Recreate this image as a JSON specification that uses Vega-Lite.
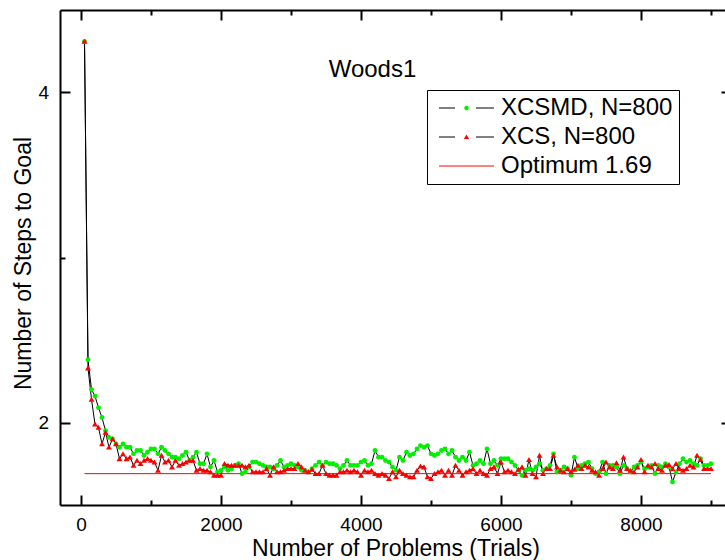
{
"$schema":"https://vega.github.io/schema/vega-lite/v6.json",
"width":665,"height":495,
"autosize":{"type":"none"},
"padding":{"left":60,"top":10,"right":0,"bottom":55},
"config":{"view":{"stroke":null},"font":"Liberation Sans",
 "axis":{"grid":false,"tickColor":"black","domainColor":"black","labelColor":"black","titleColor":"black","tickWidth":2,"domainWidth":2,"labelFont":"Liberation Sans","titleFont":"Liberation Sans","titleFontWeight":"normal","labelFlush":false,"labelOverlap":false}},
"title":{"text":"Woods1","fontSize":24,"fontWeight":"normal","font":"Liberation Sans","color":"black","anchor":"middle","orient":"top","offset":-92,"baseline":"alphabetic","dx":-20},
"datasets":{"d":[
{"s":"M","x":50,"y":4.31},{"s":"M","x":100,"y":2.38},{"s":"M","x":150,"y":2.20},{"s":"M","x":200,"y":2.16},{"s":"M","x":250,"y":2.09},{"s":"M","x":300,"y":2.03},{"s":"M","x":350,"y":1.95},{"s":"M","x":400,"y":1.91},{"s":"M","x":450,"y":1.90},{"s":"M","x":500,"y":1.87},
{"s":"M","x":550,"y":1.85},{"s":"M","x":600,"y":1.87},{"s":"M","x":650,"y":1.85},{"s":"M","x":700,"y":1.85},{"s":"M","x":750,"y":1.81},{"s":"M","x":800,"y":1.83},{"s":"M","x":850,"y":1.83},{"s":"M","x":900,"y":1.80},{"s":"M","x":950,"y":1.82},{"s":"M","x":1000,"y":1.84},
{"s":"M","x":1050,"y":1.84},{"s":"M","x":1100,"y":1.81},{"s":"M","x":1150,"y":1.85},{"s":"M","x":1200,"y":1.83},{"s":"M","x":1250,"y":1.81},{"s":"M","x":1300,"y":1.79},{"s":"M","x":1350,"y":1.79},{"s":"M","x":1400,"y":1.78},{"s":"M","x":1450,"y":1.80},{"s":"M","x":1500,"y":1.82},
{"s":"M","x":1550,"y":1.77},{"s":"M","x":1600,"y":1.79},{"s":"M","x":1650,"y":1.82},{"s":"M","x":1700,"y":1.75},{"s":"M","x":1750,"y":1.75},{"s":"M","x":1800,"y":1.81},{"s":"M","x":1850,"y":1.73},{"s":"M","x":1900,"y":1.77},{"s":"M","x":1950,"y":1.70},{"s":"M","x":2000,"y":1.71},
{"s":"M","x":2050,"y":1.73},{"s":"M","x":2100,"y":1.71},{"s":"M","x":2150,"y":1.72},{"s":"M","x":2200,"y":1.74},{"s":"M","x":2250,"y":1.75},{"s":"M","x":2300,"y":1.69},{"s":"M","x":2350,"y":1.70},{"s":"M","x":2400,"y":1.73},{"s":"M","x":2450,"y":1.76},{"s":"M","x":2500,"y":1.76},
{"s":"M","x":2550,"y":1.75},{"s":"M","x":2600,"y":1.74},{"s":"M","x":2650,"y":1.73},{"s":"M","x":2700,"y":1.73},{"s":"M","x":2750,"y":1.72},{"s":"M","x":2800,"y":1.74},{"s":"M","x":2850,"y":1.77},{"s":"M","x":2900,"y":1.73},{"s":"M","x":2950,"y":1.74},{"s":"M","x":3000,"y":1.75},
{"s":"M","x":3050,"y":1.74},{"s":"M","x":3100,"y":1.73},{"s":"M","x":3150,"y":1.71},{"s":"M","x":3200,"y":1.71},{"s":"M","x":3250,"y":1.70},{"s":"M","x":3300,"y":1.72},{"s":"M","x":3350,"y":1.74},{"s":"M","x":3400,"y":1.76},{"s":"M","x":3450,"y":1.74},{"s":"M","x":3500,"y":1.76},
{"s":"M","x":3550,"y":1.75},{"s":"M","x":3600,"y":1.75},{"s":"M","x":3650,"y":1.74},{"s":"M","x":3700,"y":1.72},{"s":"M","x":3750,"y":1.74},{"s":"M","x":3800,"y":1.77},{"s":"M","x":3850,"y":1.74},{"s":"M","x":3900,"y":1.74},{"s":"M","x":3950,"y":1.74},{"s":"M","x":4000,"y":1.76},
{"s":"M","x":4050,"y":1.77},{"s":"M","x":4100,"y":1.74},{"s":"M","x":4150,"y":1.75},{"s":"M","x":4200,"y":1.83},{"s":"M","x":4250,"y":1.79},{"s":"M","x":4300,"y":1.79},{"s":"M","x":4350,"y":1.77},{"s":"M","x":4400,"y":1.76},{"s":"M","x":4450,"y":1.73},{"s":"M","x":4500,"y":1.71},
{"s":"M","x":4550,"y":1.79},{"s":"M","x":4600,"y":1.77},{"s":"M","x":4650,"y":1.82},{"s":"M","x":4700,"y":1.80},{"s":"M","x":4750,"y":1.81},{"s":"M","x":4800,"y":1.84},{"s":"M","x":4850,"y":1.86},{"s":"M","x":4900,"y":1.85},{"s":"M","x":4950,"y":1.86},{"s":"M","x":5000,"y":1.81},
{"s":"M","x":5050,"y":1.80},{"s":"M","x":5100,"y":1.81},{"s":"M","x":5150,"y":1.83},{"s":"M","x":5200,"y":1.84},{"s":"M","x":5250,"y":1.81},{"s":"M","x":5300,"y":1.83},{"s":"M","x":5350,"y":1.79},{"s":"M","x":5400,"y":1.77},{"s":"M","x":5450,"y":1.79},{"s":"M","x":5500,"y":1.77},
{"s":"M","x":5550,"y":1.82},{"s":"M","x":5600,"y":1.74},{"s":"M","x":5650,"y":1.75},{"s":"M","x":5700,"y":1.77},{"s":"M","x":5750,"y":1.75},{"s":"M","x":5800,"y":1.84},{"s":"M","x":5850,"y":1.75},{"s":"M","x":5900,"y":1.77},{"s":"M","x":5950,"y":1.74},{"s":"M","x":6000,"y":1.78},
{"s":"M","x":6050,"y":1.78},{"s":"M","x":6100,"y":1.78},{"s":"M","x":6150,"y":1.76},{"s":"M","x":6200,"y":1.74},{"s":"M","x":6250,"y":1.71},{"s":"M","x":6300,"y":1.68},{"s":"M","x":6350,"y":1.71},{"s":"M","x":6400,"y":1.72},{"s":"M","x":6450,"y":1.71},{"s":"M","x":6500,"y":1.73},
{"s":"M","x":6550,"y":1.75},{"s":"M","x":6600,"y":1.71},{"s":"M","x":6650,"y":1.72},{"s":"M","x":6700,"y":1.74},{"s":"M","x":6750,"y":1.81},{"s":"M","x":6800,"y":1.70},{"s":"M","x":6850,"y":1.71},{"s":"M","x":6900,"y":1.73},{"s":"M","x":6950,"y":1.72},{"s":"M","x":7000,"y":1.68},
{"s":"M","x":7050,"y":1.79},{"s":"M","x":7100,"y":1.72},{"s":"M","x":7150,"y":1.74},{"s":"M","x":7200,"y":1.75},{"s":"M","x":7250,"y":1.76},{"s":"M","x":7300,"y":1.72},{"s":"M","x":7350,"y":1.69},{"s":"M","x":7400,"y":1.70},{"s":"M","x":7450,"y":1.76},{"s":"M","x":7500,"y":1.69},
{"s":"M","x":7550,"y":1.74},{"s":"M","x":7600,"y":1.74},{"s":"M","x":7650,"y":1.73},{"s":"M","x":7700,"y":1.69},{"s":"M","x":7750,"y":1.74},{"s":"M","x":7800,"y":1.72},{"s":"M","x":7850,"y":1.70},{"s":"M","x":7900,"y":1.73},{"s":"M","x":7950,"y":1.74},{"s":"M","x":8000,"y":1.76},
{"s":"M","x":8050,"y":1.72},{"s":"M","x":8100,"y":1.73},{"s":"M","x":8150,"y":1.74},{"s":"M","x":8200,"y":1.69},{"s":"M","x":8250,"y":1.74},{"s":"M","x":8300,"y":1.73},{"s":"M","x":8350,"y":1.75},{"s":"M","x":8400,"y":1.73},{"s":"M","x":8450,"y":1.64},{"s":"M","x":8500,"y":1.70},
{"s":"M","x":8550,"y":1.75},{"s":"M","x":8600,"y":1.78},{"s":"M","x":8650,"y":1.76},{"s":"M","x":8700,"y":1.77},{"s":"M","x":8750,"y":1.75},{"s":"M","x":8800,"y":1.74},{"s":"M","x":8850,"y":1.78},{"s":"M","x":8900,"y":1.74},{"s":"M","x":8950,"y":1.74},{"s":"M","x":9000,"y":1.75},
{"s":"X","x":50,"y":4.31},{"s":"X","x":100,"y":2.33},{"s":"X","x":150,"y":2.14},{"s":"X","x":200,"y":1.99},{"s":"X","x":250,"y":1.97},{"s":"X","x":300,"y":1.87},{"s":"X","x":350,"y":1.94},{"s":"X","x":400,"y":1.85},{"s":"X","x":450,"y":1.90},{"s":"X","x":500,"y":1.87},
{"s":"X","x":550,"y":1.78},{"s":"X","x":600,"y":1.81},{"s":"X","x":650,"y":1.78},{"s":"X","x":700,"y":1.79},{"s":"X","x":750,"y":1.74},{"s":"X","x":800,"y":1.77},{"s":"X","x":850,"y":1.75},{"s":"X","x":900,"y":1.77},{"s":"X","x":950,"y":1.78},{"s":"X","x":1000,"y":1.77},
{"s":"X","x":1050,"y":1.76},{"s":"X","x":1100,"y":1.71},{"s":"X","x":1150,"y":1.80},{"s":"X","x":1200,"y":1.76},{"s":"X","x":1250,"y":1.77},{"s":"X","x":1300,"y":1.73},{"s":"X","x":1350,"y":1.77},{"s":"X","x":1400,"y":1.74},{"s":"X","x":1450,"y":1.75},{"s":"X","x":1500,"y":1.76},
{"s":"X","x":1550,"y":1.77},{"s":"X","x":1600,"y":1.77},{"s":"X","x":1650,"y":1.71},{"s":"X","x":1700,"y":1.72},{"s":"X","x":1750,"y":1.71},{"s":"X","x":1800,"y":1.71},{"s":"X","x":1850,"y":1.70},{"s":"X","x":1900,"y":1.68},{"s":"X","x":1950,"y":1.68},{"s":"X","x":2000,"y":1.68},
{"s":"X","x":2050,"y":1.75},{"s":"X","x":2100,"y":1.74},{"s":"X","x":2150,"y":1.74},{"s":"X","x":2200,"y":1.74},{"s":"X","x":2250,"y":1.74},{"s":"X","x":2300,"y":1.74},{"s":"X","x":2350,"y":1.73},{"s":"X","x":2400,"y":1.74},{"s":"X","x":2450,"y":1.70},{"s":"X","x":2500,"y":1.70},
{"s":"X","x":2550,"y":1.70},{"s":"X","x":2600,"y":1.70},{"s":"X","x":2650,"y":1.72},{"s":"X","x":2700,"y":1.68},{"s":"X","x":2750,"y":1.73},{"s":"X","x":2800,"y":1.70},{"s":"X","x":2850,"y":1.70},{"s":"X","x":2900,"y":1.71},{"s":"X","x":2950,"y":1.72},{"s":"X","x":3000,"y":1.72},
{"s":"X","x":3050,"y":1.72},{"s":"X","x":3100,"y":1.75},{"s":"X","x":3150,"y":1.73},{"s":"X","x":3200,"y":1.71},{"s":"X","x":3250,"y":1.70},{"s":"X","x":3300,"y":1.715},{"s":"X","x":3350,"y":1.69},{"s":"X","x":3400,"y":1.69},{"s":"X","x":3450,"y":1.74},{"s":"X","x":3500,"y":1.69},
{"s":"X","x":3550,"y":1.68},{"s":"X","x":3600,"y":1.68},{"s":"X","x":3650,"y":1.68},{"s":"X","x":3700,"y":1.70},{"s":"X","x":3750,"y":1.70},{"s":"X","x":3800,"y":1.71},{"s":"X","x":3850,"y":1.70},{"s":"X","x":3900,"y":1.71},{"s":"X","x":3950,"y":1.70},{"s":"X","x":4000,"y":1.68},
{"s":"X","x":4050,"y":1.71},{"s":"X","x":4100,"y":1.70},{"s":"X","x":4150,"y":1.71},{"s":"X","x":4200,"y":1.69},{"s":"X","x":4250,"y":1.68},{"s":"X","x":4300,"y":1.69},{"s":"X","x":4350,"y":1.68},{"s":"X","x":4400,"y":1.66},{"s":"X","x":4450,"y":1.70},{"s":"X","x":4500,"y":1.67},
{"s":"X","x":4550,"y":1.71},{"s":"X","x":4600,"y":1.69},{"s":"X","x":4650,"y":1.68},{"s":"X","x":4700,"y":1.67},{"s":"X","x":4750,"y":1.67},{"s":"X","x":4800,"y":1.71},{"s":"X","x":4850,"y":1.735},{"s":"X","x":4900,"y":1.73},{"s":"X","x":4950,"y":1.67},{"s":"X","x":5000,"y":1.66},
{"s":"X","x":5050,"y":1.69},{"s":"X","x":5100,"y":1.70},{"s":"X","x":5150,"y":1.71},{"s":"X","x":5200,"y":1.68},{"s":"X","x":5250,"y":1.71},{"s":"X","x":5300,"y":1.68},{"s":"X","x":5350,"y":1.74},{"s":"X","x":5400,"y":1.71},{"s":"X","x":5450,"y":1.68},{"s":"X","x":5500,"y":1.70},
{"s":"X","x":5550,"y":1.71},{"s":"X","x":5600,"y":1.72},{"s":"X","x":5650,"y":1.69},{"s":"X","x":5700,"y":1.71},{"s":"X","x":5750,"y":1.69},{"s":"X","x":5800,"y":1.68},{"s":"X","x":5850,"y":1.72},{"s":"X","x":5900,"y":1.73},{"s":"X","x":5950,"y":1.69},{"s":"X","x":6000,"y":1.76},
{"s":"X","x":6050,"y":1.70},{"s":"X","x":6100,"y":1.71},{"s":"X","x":6150,"y":1.70},{"s":"X","x":6200,"y":1.69},{"s":"X","x":6250,"y":1.715},{"s":"X","x":6300,"y":1.73},{"s":"X","x":6350,"y":1.68},{"s":"X","x":6400,"y":1.775},{"s":"X","x":6450,"y":1.69},{"s":"X","x":6500,"y":1.67},
{"s":"X","x":6550,"y":1.80},{"s":"X","x":6600,"y":1.69},{"s":"X","x":6650,"y":1.72},{"s":"X","x":6700,"y":1.72},{"s":"X","x":6750,"y":1.80},{"s":"X","x":6800,"y":1.73},{"s":"X","x":6850,"y":1.71},{"s":"X","x":6900,"y":1.70},{"s":"X","x":6950,"y":1.72},{"s":"X","x":7000,"y":1.70},
{"s":"X","x":7050,"y":1.715},{"s":"X","x":7100,"y":1.74},{"s":"X","x":7150,"y":1.72},{"s":"X","x":7200,"y":1.74},{"s":"X","x":7250,"y":1.73},{"s":"X","x":7300,"y":1.71},{"s":"X","x":7350,"y":1.70},{"s":"X","x":7400,"y":1.68},{"s":"X","x":7450,"y":1.72},{"s":"X","x":7500,"y":1.76},
{"s":"X","x":7550,"y":1.73},{"s":"X","x":7600,"y":1.72},{"s":"X","x":7650,"y":1.755},{"s":"X","x":7700,"y":1.71},{"s":"X","x":7750,"y":1.79},{"s":"X","x":7800,"y":1.72},{"s":"X","x":7850,"y":1.71},{"s":"X","x":7900,"y":1.70},{"s":"X","x":7950,"y":1.73},{"s":"X","x":8000,"y":1.775},
{"s":"X","x":8050,"y":1.70},{"s":"X","x":8100,"y":1.74},{"s":"X","x":8150,"y":1.73},{"s":"X","x":8200,"y":1.75},{"s":"X","x":8250,"y":1.72},{"s":"X","x":8300,"y":1.71},{"s":"X","x":8350,"y":1.74},{"s":"X","x":8400,"y":1.745},{"s":"X","x":8450,"y":1.72},{"s":"X","x":8500,"y":1.75},
{"s":"X","x":8550,"y":1.72},{"s":"X","x":8600,"y":1.71},{"s":"X","x":8650,"y":1.72},{"s":"X","x":8700,"y":1.74},{"s":"X","x":8750,"y":1.73},{"s":"X","x":8800,"y":1.80},{"s":"X","x":8850,"y":1.775},{"s":"X","x":8900,"y":1.72},{"s":"X","x":8950,"y":1.72},{"s":"X","x":9000,"y":1.72},
{"s":"O","x":50,"y":1.69},{"s":"O","x":9000,"y":1.69}
]},
"data":{"name":"d"},
"layer":[
{"transform":[{"filter":"datum.s !== 'O'"}],
 "mark":{"type":"line","strokeWidth":1},
 "encoding":{
  "x":{"field":"x","type":"quantitative","scale":{"domain":[-300,9200],"nice":false,"zero":false},
   "axis":{"orient":"bottom","values":[0,2000,4000,6000,8000],"format":"d","tickSize":-10,"labelPadding":20,"labelFontSize":19,"domain":true,"title":"Number of Problems (Trials)","titleFontSize":23,"titleBaseline":"alphabetic","titleX":335.5,"titleY":50}},
  "y":{"field":"y","type":"quantitative","scale":{"domain":[1.5,4.5],"nice":false,"zero":false},
   "axis":{"orient":"left","values":[2,4],"format":"d","tickSize":-10,"labelPadding":21.5,"labelFontSize":19,"domain":true,"title":"Number of Steps to Goal","titleFontSize":23,"titlePadding":2,"titleY":253}},
  "stroke":{"field":"s","type":"nominal","scale":{"domain":["M","X","O"],"range":["black","black","red"]},
   "legend":{"orient":"none","legendX":367,"legendY":80,"title":null,"direction":"vertical","symbolSize":121,"symbolStrokeWidth":1,"symbolType":"M0,0H10","labelFontSize":24,"labelFont":"Liberation Sans","labelColor":"black","labelOffset":44,"labelLimit":400,"rowPadding":5,"padding":6,"strokeColor":"black",
    "labelExpr":"datum.value === 'M' ? 'XCSMD, N=800' : datum.value === 'X' ? 'XCS, N=800' : 'Optimum 1.69'",
    "encode":{"symbols":{"update":{"shape":{"signal":"datum.value === 'O' ? 'M-1.09,0H8.91' : 'M-1.09,0H1.82M5.64,0H8.91'"}}}}}}
 }},
{"transform":[{"filter":"datum.s === 'O'"}],
 "mark":{"type":"line","strokeWidth":1},
 "encoding":{
  "x":{"field":"x","type":"quantitative","axis":{"orient":"bottom","values":[1000,3000,5000,7000,9000],"tickSize":-5,"labels":false,"domain":false,"title":null}},
  "y":{"field":"y","type":"quantitative","axis":{"orient":"left","values":[3],"tickSize":-5,"labels":false,"domain":false,"title":null}},
  "stroke":{"field":"s","type":"nominal","scale":{"domain":["M","X","O"],"range":["black","black","red"]},
   "legend":{"orient":"none","legendX":367,"legendY":80,"title":null,"direction":"vertical","symbolSize":121,"symbolStrokeWidth":1,"symbolType":"M0,0H10","labelFontSize":24,"labelFont":"Liberation Sans","labelColor":"black","labelOffset":44,"labelLimit":400,"rowPadding":5,"padding":6,"strokeColor":"black",
    "labelExpr":"datum.value === 'M' ? 'XCSMD, N=800' : datum.value === 'X' ? 'XCS, N=800' : 'Optimum 1.69'",
    "encode":{"symbols":{"update":{"shape":{"signal":"datum.value === 'O' ? 'M-1.09,0H8.91' : 'M-1.09,0H1.82M5.64,0H8.91'"}}}}}}
 }},
{"transform":[{"filter":"datum.s === 'M'"}],
 "mark":{"type":"point","filled":true,"size":24,"opacity":1,"strokeWidth":0},
 "encoding":{
  "x":{"field":"x","type":"quantitative","axis":{"orient":"top","values":[0,2000,4000,6000,8000],"tickSize":-10,"labels":false,"domain":true,"title":null}},
  "y":{"field":"y","type":"quantitative","axis":{"orient":"right","values":[2,4],"tickSize":-4,"labels":false,"domain":false,"title":null}},
  "fill":{"field":"s","type":"nominal","scale":{"domain":["M","X"],"range":["#00f000","#ff0000"]},
   "legend":{"orient":"none","legendX":388.5,"legendY":80,"title":null,"direction":"vertical","symbolSize":20,"symbolStrokeWidth":0,"symbolOpacity":1,"labelFontSize":24,"labelFont":"Liberation Sans","labelExpr":"''","labelOffset":0,"rowPadding":5,"padding":6}},
  "shape":{"field":"s","type":"nominal","scale":{"domain":["M","X"],"range":["circle","M0,-1.1L1.2,0.95L-1.2,0.95Z"]},
   "legend":{"orient":"none","legendX":388.5,"legendY":80,"title":null,"direction":"vertical","symbolSize":20,"symbolStrokeWidth":0,"symbolOpacity":1,"labelFontSize":24,"labelFont":"Liberation Sans","labelExpr":"''","labelOffset":0,"rowPadding":5,"padding":6}}
 }},
{"transform":[{"filter":"datum.s === 'X'"}],
 "mark":{"type":"point","filled":true,"size":24,"opacity":1,"strokeWidth":0},
 "encoding":{
  "x":{"field":"x","type":"quantitative","axis":{"orient":"top","values":[1000,3000,5000,7000,9000],"tickSize":-5,"labels":false,"domain":false,"title":null}},
  "y":{"field":"y","type":"quantitative","axis":null},
  "fill":{"field":"s","type":"nominal","scale":{"domain":["M","X"],"range":["#00f000","#ff0000"]},
   "legend":{"orient":"none","legendX":388.5,"legendY":80,"title":null,"direction":"vertical","symbolSize":20,"symbolStrokeWidth":0,"symbolOpacity":1,"labelFontSize":24,"labelFont":"Liberation Sans","labelExpr":"''","labelOffset":0,"rowPadding":5,"padding":6}},
  "shape":{"field":"s","type":"nominal","scale":{"domain":["M","X"],"range":["circle","M0,-1.1L1.2,0.95L-1.2,0.95Z"]},
   "legend":{"orient":"none","legendX":388.5,"legendY":80,"title":null,"direction":"vertical","symbolSize":20,"symbolStrokeWidth":0,"symbolOpacity":1,"labelFontSize":24,"labelFont":"Liberation Sans","labelExpr":"''","labelOffset":0,"rowPadding":5,"padding":6}}
 }}
],
"resolve":{"axis":{"x":"independent","y":"independent"}}
}
